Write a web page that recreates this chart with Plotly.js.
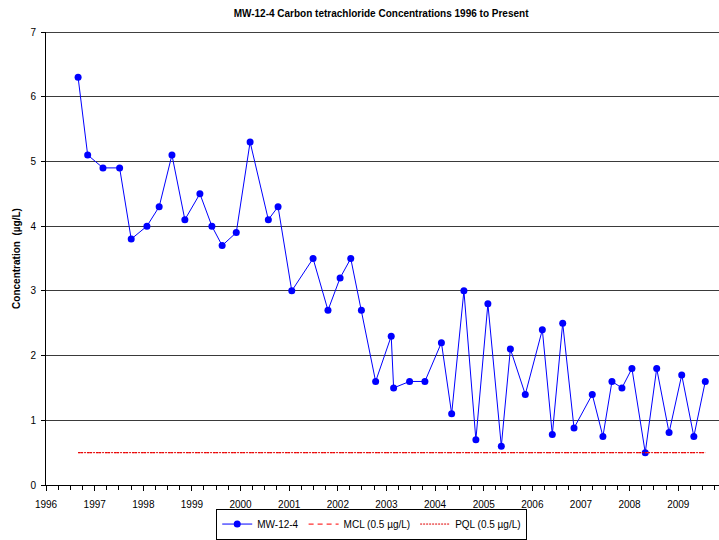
<!DOCTYPE html>
<html>
<head>
<meta charset="utf-8">
<script src="https://cdn.plot.ly/plotly-3.0.1.min.js"></script>
<style>html,body{margin:0;padding:0;background:#fff;}#chart{width:719px;height:540px;}</style>
</head>
<body>
<div id="chart"></div>
<script>
const sampleDates = [
  '1996-08-29','1996-11-09','1997-03-04','1997-07-07','1997-10-02',
  '1998-01-28','1998-04-30','1998-08-04','1998-11-09','1999-03-02',
  '1999-05-31','1999-08-16','1999-11-30','2000-03-13','2000-07-28',
  '2000-10-09','2001-01-20','2001-06-29','2001-10-19','2002-01-18',
  '2002-04-08','2002-06-27','2002-10-12','2003-02-06','2003-02-24',
  '2003-06-24','2003-10-17','2004-02-18','2004-05-05','2004-08-05',
  '2004-11-03','2005-02-01','2005-05-13','2005-07-20','2005-11-09',
  '2006-03-17','2006-05-31','2006-08-17','2006-11-10','2007-03-27',
  '2007-06-15','2007-08-22','2007-11-05','2008-01-19','2008-04-28',
  '2008-07-23','2008-10-24','2009-01-27','2009-04-28','2009-07-23'
];
const concentrations = [
  6.3, 5.1, 4.9, 4.9, 3.8,
  4.0, 4.3, 5.1, 4.1, 4.5,
  4.0, 3.7, 3.9, 5.3, 4.1,
  4.3, 3.0, 3.5, 2.7, 3.2,
  3.5, 2.7, 1.6, 2.3, 1.5,
  1.6, 1.6, 2.2, 1.1, 3.0,
  0.7, 2.8, 0.6, 2.1, 1.4,
  2.4, 0.78, 2.5, 0.88, 1.4,
  0.75, 1.6, 1.5, 1.8, 0.5,
  1.8, 0.81, 1.7, 0.75, 1.6
];
const mclValue = 0.5;
const pqlValue = 0.5;
const seriesNames = ['MW-12-4', 'MCL (0.5 \u00b5g/L)', 'PQL (0.5 \u00b5g/L)'];
const limitDates = [sampleDates[0], sampleDates[sampleDates.length - 1]];

const traces = [
  {
    x: sampleDates, y: concentrations, name: seriesNames[0],
    type: 'scatter', mode: 'lines+markers',
    line: {color: '#0000ff', width: 1},
    marker: {color: '#0000ff', size: 7, symbol: 'circle'}
  },
  {
    x: limitDates, y: [mclValue, mclValue], name: seriesNames[1],
    type: 'scatter', mode: 'lines',
    line: {color: '#ff3030', width: 1.3, dash: '5px,4px'}
  },
  {
    x: limitDates, y: [pqlValue, pqlValue], name: seriesNames[2],
    type: 'scatter', mode: 'lines',
    line: {color: '#e00000', width: 1, dash: '2px,1px'}
  }
];

const layout = {
  width: 719, height: 540,
  margin: {l: 46, r: 0, t: 32, b: 55},
  paper_bgcolor: '#ffffff', plot_bgcolor: '#ffffff',
  font: {family: 'Liberation Sans, Arial, sans-serif', size: 10, color: '#000'},
  showlegend: true,
  title: {
    text: '<b>MW-12-4 Carbon tetrachloride Concentrations 1996 to Present</b>',
    font: {family: 'Liberation Sans Narrow, Liberation Sans, Arial', size: 10, color: '#000'},
    x: 0.53, xanchor: 'center', y: 0.975, yanchor: 'middle'
  },
  xaxis: {
    type: 'date',
    range: ['1996-01-01', '2009-11-03'],
    tick0: '1996-01-01', dtick: 'M12', tickformat: '%Y',
    ticks: 'outside', ticklen: 5, tickcolor: '#000', tickwidth: 1,
    ticklabelstandoff: 5,
    minor: {dtick: 'M3', ticks: 'outside', ticklen: 4, tickcolor: '#000', showgrid: false},
    showline: true, linecolor: '#000', linewidth: 1,
    showgrid: false, zeroline: false,
    tickfont: {size: 10, color: '#000'}
  },
  yaxis: {
    range: [0, 7], dtick: 1, tick0: 0,
    ticks: 'outside', ticklen: 4, tickcolor: '#000',
    ticklabelstandoff: 3,
    showline: true, linecolor: '#000', linewidth: 1,
    showgrid: true, gridcolor: '#3a3a3a', gridwidth: 1,
    zeroline: false,
    tickfont: {size: 10, color: '#000'},
    title: {text: '<b>Concentration  (\u00b5g/L)</b>', font: {size: 10, color: '#000'}, standoff: 7}
  },
  legend: {
    orientation: 'h', x: 0.484, xanchor: 'center', y: -0.052, yanchor: 'top',
    bordercolor: '#000', borderwidth: 1, bgcolor: '#fff',
    font: {size: 10, color: '#000'},
    itemwidth: 30
  },
  shapes: [{
    type: 'line', xref: 'paper', yref: 'y', x0: 0, x1: 1, y0: 7, y1: 7,
    line: {color: '#000', width: 1.3}
  }]
};

Plotly.newPlot('chart', traces, layout, {displayModeBar: false, staticPlot: true});
</script>
</body>
</html>
